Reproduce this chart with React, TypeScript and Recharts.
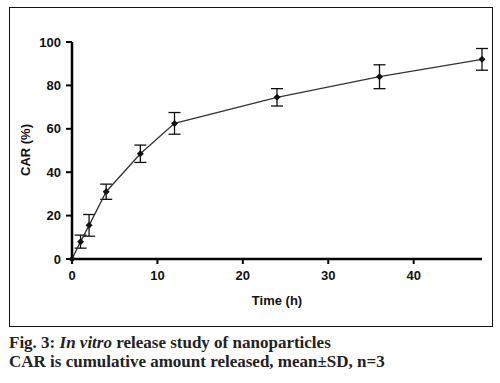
import { LineChart, Line, XAxis, YAxis, ErrorBar, Label } from "recharts";

// cumulative amount released over time
const timeHours = [0, 1, 2, 4, 8, 12, 24, 36, 48];
const carPercent = [0, 8, 15.5, 31, 48.5, 62.5, 74.5, 84, 92];
const carSD = [0, 3, 5, 3.5, 4, 5, 4, 5.5, 5];
const xTicks = [0, 10, 20, 30, 40];
const yTicks = [0, 20, 40, 60, 80, 100];

const data = timeHours.map((t, i) => ({ time: t, car: carPercent[i], sd: carSD[i] }));

const axisFont = "'Liberation Sans', Arial, sans-serif";
const tickStyle = { fontSize: 13, fontWeight: "bold", fill: "#111", fontFamily: axisFont };

const Diamond = (props: any) => {
  const { cx, cy, index } = props;
  if (cx == null || cy == null) return <g key={`d-${index}`} />;
  const r = 3.5;
  return (
    <polygon
      key={`d-${index}`}
      points={`${cx},${cy - r} ${cx + r},${cy} ${cx},${cy + r} ${cx - r},${cy}`}
      fill="#111"
    />
  );
};

export default function App() {
  return (
    <div style={{ position: "absolute", left: 0, top: 0, width: 500, height: 383, background: "#fff" }}>
      <div
        style={{
          position: "absolute",
          left: 9,
          top: 7,
          width: 482,
          height: 318,
          border: "1px solid #111",
        }}
      />
      <div style={{ position: "absolute", left: 0, top: 0 }}>
        <LineChart width={500} height={320} data={data} margin={{ top: 42, right: 18, bottom: 0, left: 0 }}>
          <XAxis
            type="number"
            dataKey="time"
            domain={[0, 48]}
            ticks={xTicks}
            height={61}
            tick={tickStyle}
            tickSize={5}
            tickMargin={7}
            axisLine={{ stroke: "#000", strokeWidth: 2.5 }}
            tickLine={{ stroke: "#000", strokeWidth: 2 }}
          >
            <Label
              value="Time (h)"
              position="insideBottom"
              offset={15}
              style={{ fontSize: 13, fontWeight: "bold", fill: "#111", fontFamily: axisFont }}
            />
          </XAxis>
          <YAxis
            type="number"
            domain={[0, 100]}
            ticks={yTicks}
            width={72}
            tick={tickStyle}
            tickSize={6}
            tickMargin={5}
            axisLine={{ stroke: "#000", strokeWidth: 2.5 }}
            tickLine={{ stroke: "#000", strokeWidth: 2 }}
          >
            <Label
              content={() => (
                <text
                  x={25}
                  y={150}
                  transform="rotate(-90 25 150)"
                  textAnchor="middle"
                  dominantBaseline="central"
                  style={{ fontSize: 13, fontWeight: "bold", fill: "#111", fontFamily: axisFont }}
                >
                  CAR (%)
                </text>
              )}
            />
          </YAxis>
          <Line
            type="linear"
            dataKey="car"
            stroke="#333"
            strokeWidth={1.3}
            dot={Diamond}
            activeDot={false}
            isAnimationActive={false}
          >
            <ErrorBar dataKey="sd" width={6} stroke="#111" strokeWidth={1.3} isAnimationActive={false} />
          </Line>
        </LineChart>
      </div>
      <div
        style={{
          position: "absolute",
          left: 9,
          top: 333,
          fontFamily: "'Liberation Serif', 'Times New Roman', serif",
          fontWeight: "bold",
          fontSize: 17,
          lineHeight: "19px",
          color: "#222",
          whiteSpace: "nowrap",
        }}
      >
        <div>
          Fig. 3: <i>In vitro</i> release study of nanoparticles
        </div>
        <div>CAR is cumulative amount released, mean±SD, n=3</div>
      </div>
    </div>
  );
}
